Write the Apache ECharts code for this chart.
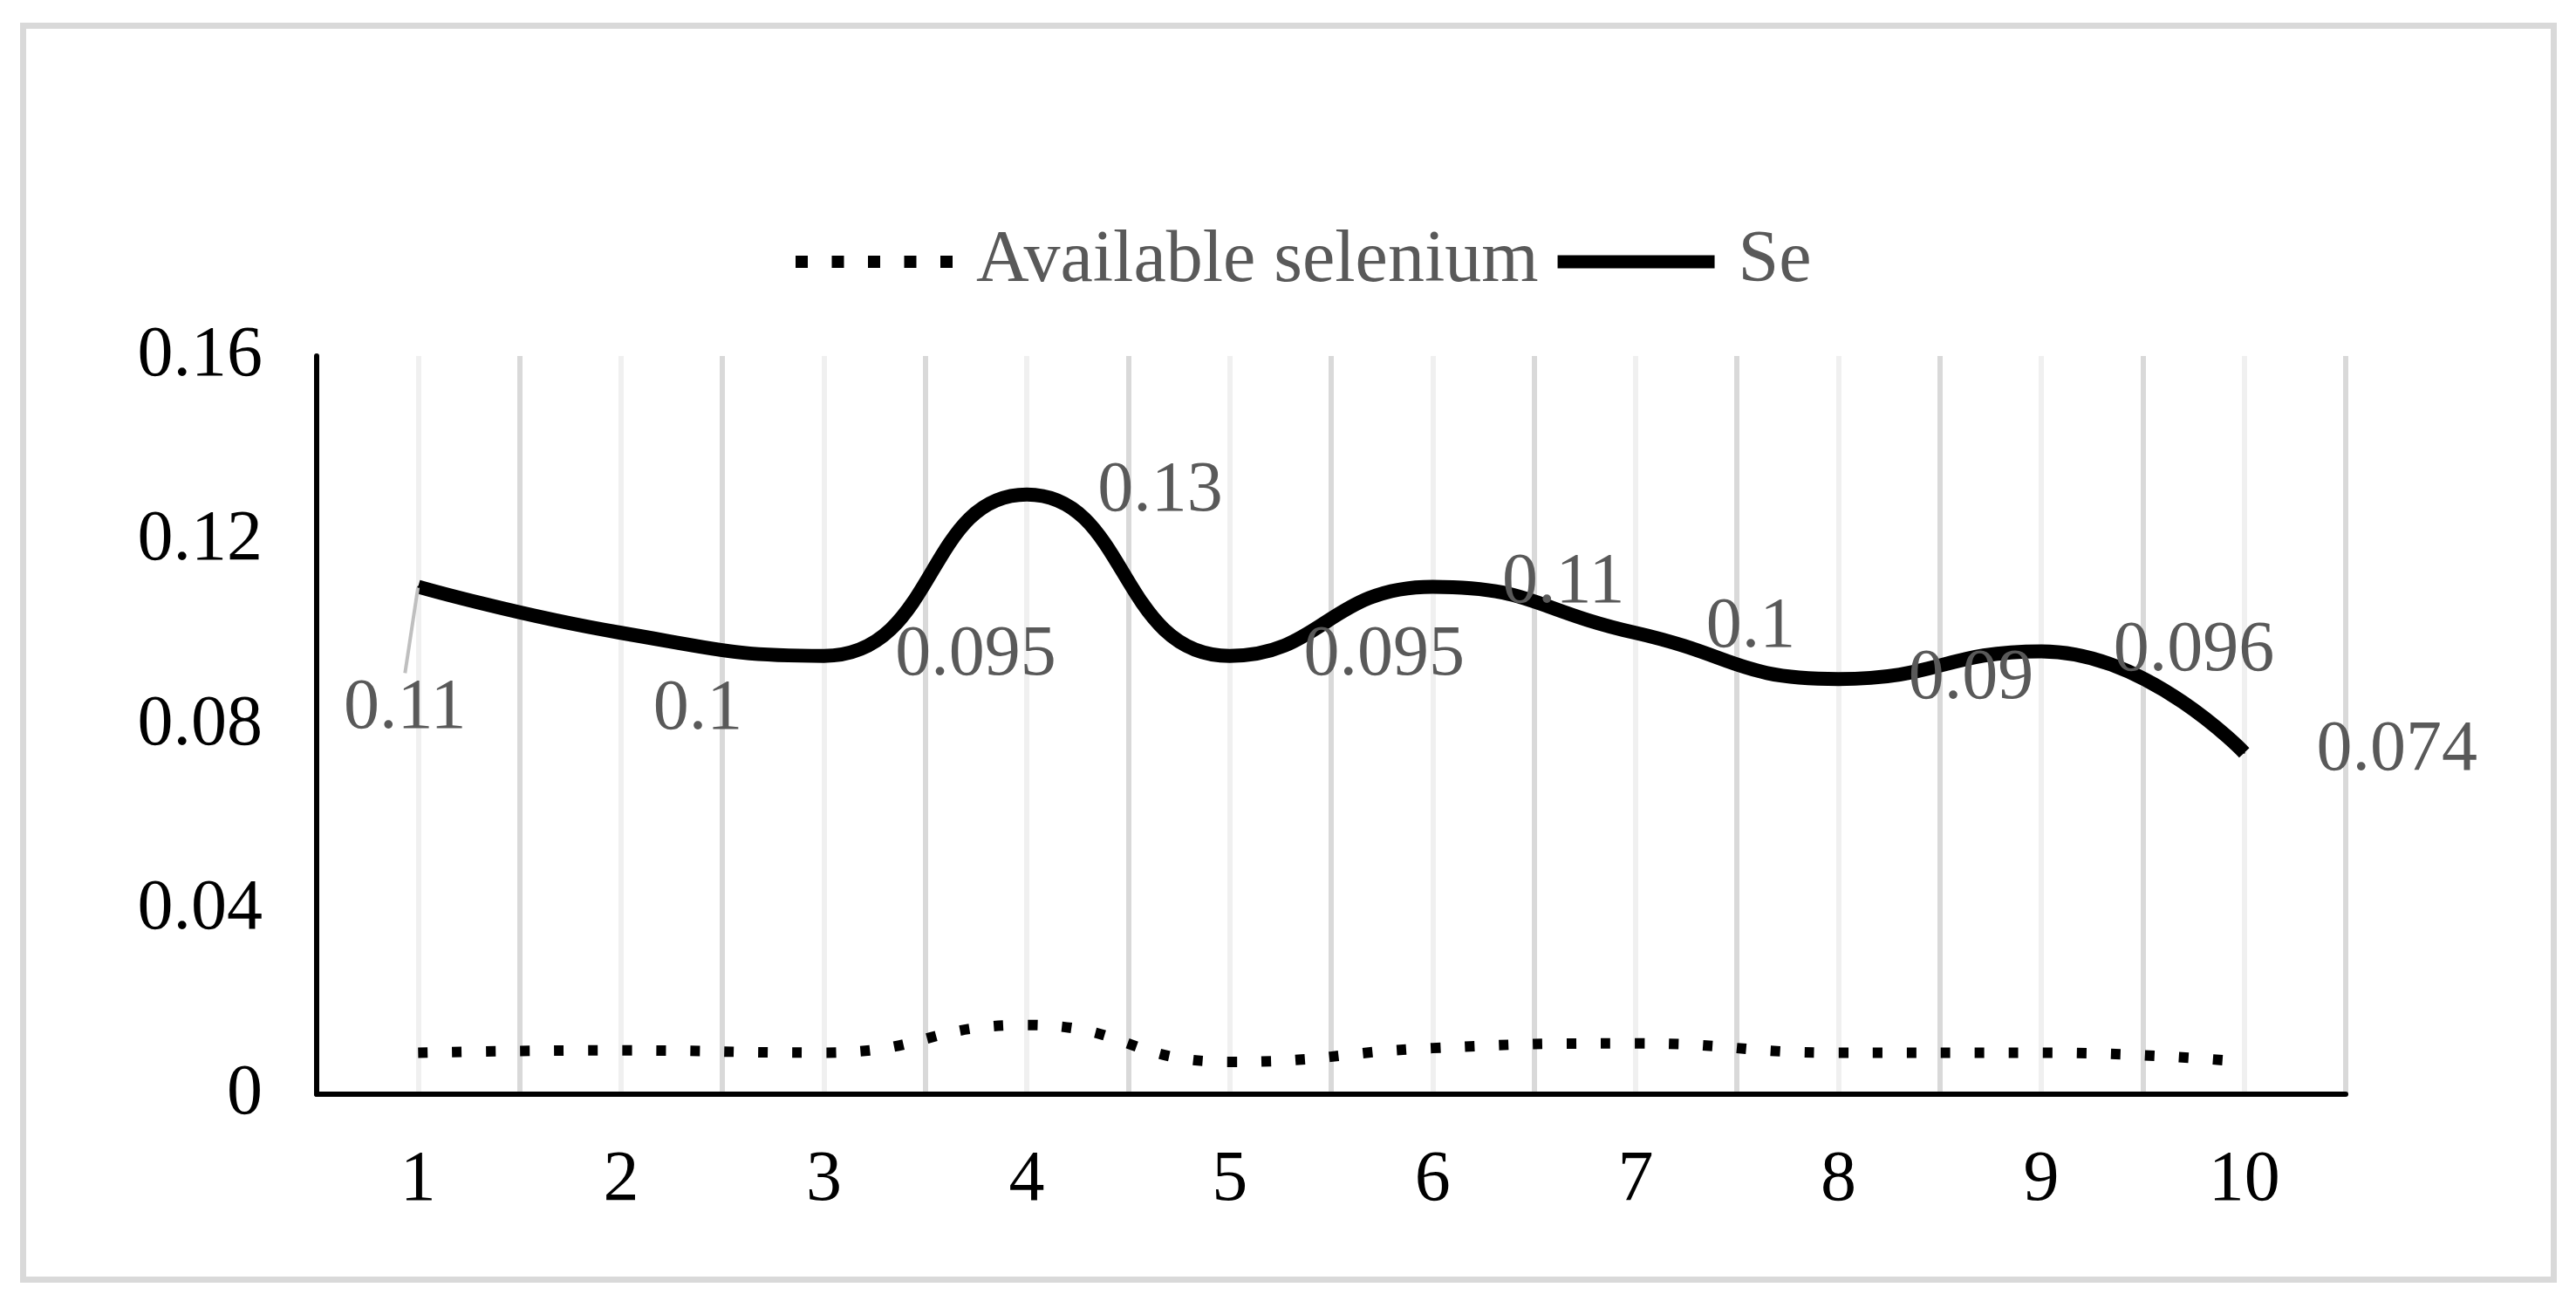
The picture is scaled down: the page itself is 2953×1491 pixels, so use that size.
<!DOCTYPE html>
<html>
<head>
<meta charset="utf-8">
<script src="https://cdn.jsdelivr.net/npm/echarts@6/dist/echarts.min.js"></script>
<style>
  html, body { margin: 0; padding: 0; background: #fff; }
  #main { width: 2953px; height: 1491px; }
</style>
</head>
<body>
<div id="main"></div>
<script>
// sample numbers on the x axis
const categories = ["1", "2", "3", "4", "5", "6", "7", "8", "9", "10"];

// values
const availableSelenium = [0.009, 0.0095, 0.009, 0.015, 0.007, 0.01, 0.011, 0.009, 0.009, 0.007];
const seValues = [0.11, 0.1, 0.095, 0.13, 0.095, 0.11, 0.1, 0.09, 0.096, 0.074];

// where each data label sits, relative to its point (px)
const labelOffsets = [
    [-15, 140], [88, 88], [174, 0], [153, -3], [177, 0],
    [150, -4], [132, -6], [152, 0], [175, 0], [175, -2]
];

const FONT = "'Liberation Serif', 'Times New Roman', serif";

// legend icons: five square dots, and a thick bar
const DOTS_ICON = "path://M0 0h14v14H0z M41.5 0h14v14h-14z M83 0h14v14H83z M124.5 0h14v14h-14z M166 0h14v14h-14z";

const chart = echarts.init(document.getElementById("main"));

const seData = seValues.map((v, i) => {
    const item = { value: v };
    if (i === 0) {
        item.labelLine = { show: true, lineStyle: { color: "#bfbfbf", width: 4 } };
    }
    return item;
});

const option = {
    backgroundColor: "#fff",
    animation: false,
    graphic: [
        {
            type: "rect",
            shape: { x: 26.5, y: 29.5, width: 2901, height: 1437 },
            style: { fill: "none", stroke: "#d9d9d9", lineWidth: 7 },
            z: -1
        }
    ],
    legend: {
        top: 253,
        left: 907,
        itemWidth: 180,
        itemHeight: 15,
        itemGap: 22,
        itemStyle: { color: "#000", borderWidth: 0 },
        lineStyle: { width: 0 },
        textStyle: {
            fontFamily: FONT,
            fontSize: 84,
            color: "#595959",
            padding: [0, 0, 0, 22]
        },
        data: [
            { name: "Available selenium", icon: DOTS_ICON },
            { name: "Se", icon: "rect" }
        ]
    },
    grid: { left: 363, right: 264, top: 408, bottom: 237 },
    xAxis: [
        {
            type: "category",
            data: categories,
            boundaryGap: true,
            axisLine: { lineStyle: { color: "#000", width: 6 } },
            axisTick: { show: false },
            axisLabel: { fontFamily: FONT, fontSize: 82, color: "#000", margin: 58 },
            splitLine: { show: false }
        },
        {
            // only for the vertical gridlines at every half band
            type: "value",
            min: 0,
            max: 20,
            interval: 1,
            show: true,
            axisLine: { show: false },
            axisTick: { show: false },
            axisLabel: { show: false },
            splitLine: {
                show: true,
                lineStyle: { color: ["#d9d9d9", "#f0f0f0"], width: 6 }
            }
        }
    ],
    yAxis: {
        type: "value",
        min: 0,
        max: 0.16,
        interval: 0.04,
        axisLine: { show: true, lineStyle: { color: "#000", width: 6 } },
        axisTick: { show: false },
        axisLabel: { fontFamily: FONT, fontSize: 82, color: "#000", margin: 62 },
        splitLine: { show: false }
    },
    series: [
        {
            name: "Available selenium",
            type: "line",
            xAxisIndex: 0,
            data: availableSelenium,
            smooth: true,
            symbol: "none",
            lineStyle: { color: "#000", width: 12, type: [11, 28], cap: "butt" },
            itemStyle: { color: "#000" },
            z: 3
        },
        {
            name: "Se",
            type: "line",
            xAxisIndex: 0,
            data: seData,
            smooth: true,
            symbol: "circle",
            symbolSize: 2,
            itemStyle: { color: "#000" },
            lineStyle: { color: "#000", width: 16 },
            label: {
                show: true,
                position: "inside",
                fontFamily: FONT,
                fontSize: 82,
                color: "#595959"
            },
            labelLayout: function (params) {
                const off = labelOffsets[params.dataIndex];
                return { dx: off[0], dy: off[1] };
            },
            z: 3
        }
    ]
};

chart.setOption(option);
</script>
</body>
</html>
